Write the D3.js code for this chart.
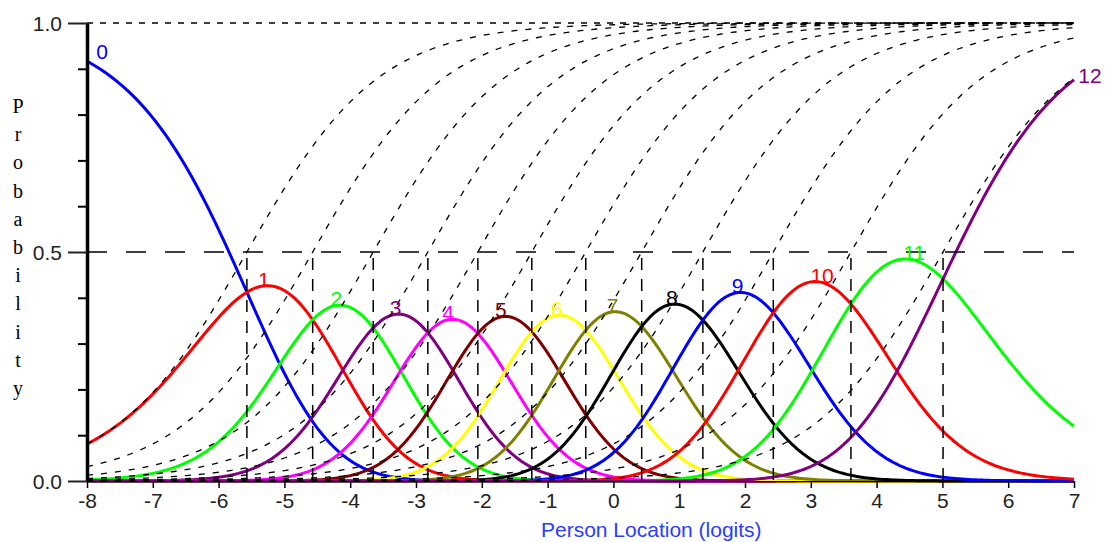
<!DOCTYPE html>
<html>
<head>
<meta charset="utf-8">
<script src="https://cdn.jsdelivr.net/npm/d3@7"></script>
<style>
  html, body { margin: 0; padding: 0; background: #fff; }
  svg { display: block; }
  .tick-label { font-family: "Liberation Sans", Arial, sans-serif; font-size: 21px; fill: #222; }
  .cat-label { font-family: "Liberation Sans", Arial, sans-serif; font-size: 21px; }
</style>
</head>
<body>
<div id="chart"></div>
<script>
// category scores and the thresholds (logits)
const categories = ["0","1","2","3","4","5","6","7","8","9","10","11","12"];
const thresholds = [-5.57, -4.57, -3.65, -2.82, -2.06, -1.24, -0.42, 0.43, 1.36, 2.43, 3.61, 5.01];
const catColors = ["#0000ff","#ff0000","#00ff00","#800080","#ff00ff","#800000","#ffff00",
                   "#808000","#000000","#0000ff","#ff0000","#00ff00","#800080"];
const xTickValues = [-8,-7,-6,-5,-4,-3,-2,-1,0,1,2,3,4,5,6,7];
const yMajorTicks = [0, 0.5, 1.0];
const yMinorTicks = [0.1,0.2,0.3,0.4,0.6,0.7,0.8,0.9];
const yAxisLetters = ["P","r","o","b","a","b","i","l","i","t","y"];
const xTitle = "Person Location (logits)";

const width = 1108, height = 542;
const plotLeft = 87, plotRight = 1074, plotTop = 23, plotBottom = 481;

const x = d3.scaleLinear().domain([-8, 7]).range([plotLeft, plotRight]);
const y = d3.scaleLinear().domain([0, 1]).range([plotBottom, plotTop]);

const svg = d3.select("#chart").append("svg")
    .attr("width", width)
    .attr("height", height);

// partial credit model: probability of each category at location t
const catProbs = t => {
  let cum = 0;
  const nums = [1];
  thresholds.forEach(d => { cum += t - d; nums.push(Math.exp(cum)); });
  const sum = d3.sum(nums);
  return nums.map(n => n / sum);
};
const logistic = v => 1 / (1 + Math.exp(-v));

const grid = d3.range(-8, 7.0001, 0.05);
const line = d3.line().x(d => x(d[0])).y(d => y(d[1]));

// category curves
const curves = categories.map((c, i) => grid.map(t => [t, catProbs(t)[i]]));

svg.append("g").selectAll("path")
  .data(curves)
  .enter()
    .append("path")
    .attr("d", d => line(d))
    .style("fill", "none")
    .style("stroke", (d, i) => catColors[i])
    .style("stroke-width", 3)
    .style("stroke-linejoin", "round");

// threshold (conditional) curves
svg.append("g").selectAll("path")
  .data(thresholds)
  .enter()
    .append("path")
    .attr("d", d => line(grid.map(t => [t, logistic(t - d)])))
    .style("fill", "none")
    .style("stroke", "#000")
    .style("stroke-width", 1.3)
    .style("stroke-dasharray", "6,8");

// vertical drop lines at thresholds
svg.append("g").selectAll("line")
  .data(thresholds)
  .enter()
    .append("line")
    .attr("x1", d => x(d)).attr("x2", d => x(d))
    .attr("y1", y(0.5) + 6).attr("y2", y(0))
    .style("stroke", "#000")
    .style("stroke-width", 1.5)
    .style("stroke-dasharray", "12,9");

// reference lines at 0.5 and 1.0
svg.append("line")
  .attr("x1", plotLeft).attr("x2", plotRight)
  .attr("y1", y(0.5)).attr("y2", y(0.5))
  .style("stroke", "#000").style("stroke-width", 1.5)
  .style("stroke-dasharray", "20,19");

svg.append("line")
  .attr("x1", plotLeft).attr("x2", plotRight)
  .attr("y1", y(1)).attr("y2", y(1))
  .style("stroke", "#000").style("stroke-width", 1.5)
  .style("stroke-dasharray", "6,7");

// category labels near the peaks
const labels = categories.map((c, i) => {
  if (i === 0) return { text: c, x: x(-8) + 15, y: y(curves[i][0][1]) - 2, color: catColors[i] };
  if (i === categories.length - 1) {
    const last = curves[i][curves[i].length - 1];
    return { text: c, x: x(7) + 16, y: y(last[1]) + 3, color: catColors[i] };
  }
  const peak = d3.greatest(curves[i], d => d[1]);
  return { text: c, x: x(peak[0]) + (c.length > 1 ? 8 : -4), y: y(peak[1]) + 1, color: catColors[i] };
});

svg.append("g").selectAll("text")
  .data(labels)
  .enter()
    .append("text")
    .attr("class", "cat-label")
    .attr("x", d => d.x)
    .attr("y", d => d.y)
    .attr("text-anchor", "middle")
    .style("fill", d => d.color)
    .text(d => d.text);

// x axis
const xAxis = svg.append("g")
  .attr("transform", "translate(0," + plotBottom + ")")
  .call(d3.axisBottom(x).tickValues(xTickValues).tickSize(7).tickSizeOuter(0).tickPadding(5)
        .tickFormat(d3.format("d")));
xAxis.select(".domain").style("stroke", "#000").style("stroke-width", 1);
xAxis.selectAll(".tick line").style("stroke", "#000").style("stroke-width", 1.5);
xAxis.selectAll(".tick text").attr("class", "tick-label").attr("font-size", null).attr("font-family", null)
  .text(d => d < 0 ? "-" + Math.abs(d) : d);

// y axis: minor ticks, then major ticks with labels
const yMinor = svg.append("g")
  .attr("transform", "translate(" + plotLeft + ",0)")
  .call(d3.axisLeft(y).tickValues(yMinorTicks).tickSize(9).tickSizeOuter(0).tickFormat(""));
yMinor.select(".domain").remove();
yMinor.selectAll(".tick line").style("stroke", "#000").style("stroke-width", 2);

const yAxis = svg.append("g")
  .attr("transform", "translate(" + plotLeft + ",0)")
  .call(d3.axisLeft(y).tickValues(yMajorTicks).tickSize(19).tickSizeOuter(0).tickPadding(6)
        .tickFormat(d3.format(".1f")));
yAxis.select(".domain").style("stroke", "#000").style("stroke-width", 3.5);
yAxis.selectAll(".tick line").style("stroke", "#222").style("stroke-width", 2);
yAxis.selectAll(".tick text").attr("class", "tick-label").attr("font-size", null).attr("font-family", null)
  .attr("dy", "0.34em");

// stacked y title
svg.append("g").selectAll("text")
  .data(yAxisLetters)
  .enter()
    .append("text")
    .attr("x", 18)
    .attr("y", (d, i) => 113 + i * 28.2)
    .attr("text-anchor", "middle")
    .style("font-family", "'Liberation Serif', 'DejaVu Serif', serif")
    .style("font-size", "20px")
    .style("fill", "#000")
    .text(d => d);

// x title
svg.append("text")
  .attr("x", 541)
  .attr("y", 537)
  .style("font-family", "'Liberation Sans', Arial, sans-serif")
  .style("font-size", "21px")
  .style("fill", "#2a3cff")
  .text(xTitle);
</script>
</body>
</html>
